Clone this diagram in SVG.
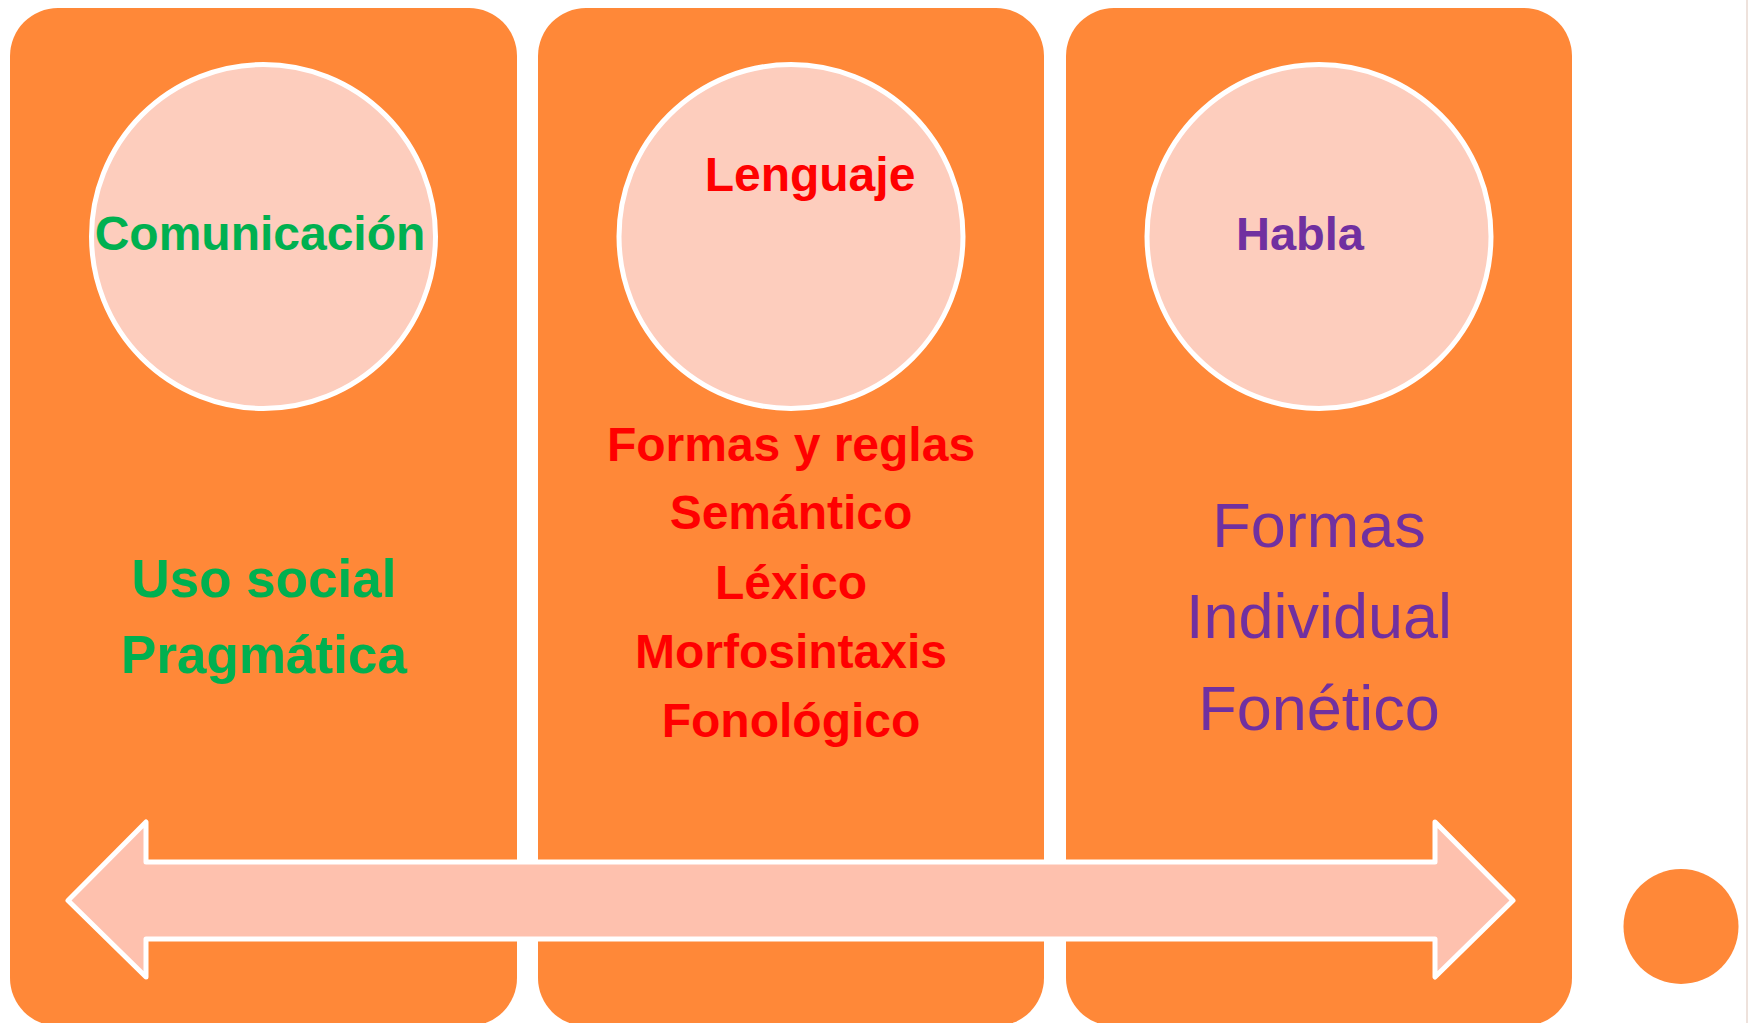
<svg xmlns="http://www.w3.org/2000/svg" width="1748" height="1023" viewBox="0 0 1748 1023">
<style>
.box{fill:#FF8838}
.circ{fill:#FDCDBD;stroke:#FFFFFF;stroke-width:5}
.b{font-family:"Liberation Sans",Arial,sans-serif;font-weight:bold;text-anchor:middle}
.r{font-family:"Liberation Sans",Arial,sans-serif;font-weight:normal;text-anchor:middle}
.g{fill:#00B050}
.red{fill:#FF0000}
.p{fill:#7030A0}
</style>
<rect width="1748" height="1023" fill="#FFFFFF"/>
<line x1="1747" y1="0" x2="1747" y2="1023" stroke="#E8D8D0" stroke-width="1.5"/>
<g id="col-comunicacion">
<rect class="box" x="10" y="8" width="507" height="1018" rx="48" ry="48"/>
<circle class="circ" cx="263.5" cy="236.5" r="172"/>
<text class="b g" x="260" y="250" font-size="48">Comunicación</text>
<text class="b g" x="264" y="597" font-size="53">Uso social</text>
<text class="b g" x="264" y="673" font-size="53">Pragmática</text>
</g>
<g id="col-lenguaje">
<rect class="box" x="538" y="8" width="506" height="1018" rx="48" ry="48"/>
<circle class="circ" cx="791" cy="236.5" r="172"/>
<text class="b red" x="810" y="191" font-size="48">Lenguaje</text>
<text class="b red" x="791" y="461" font-size="48">Formas y reglas</text>
<text class="b red" x="791" y="529" font-size="48">Semántico</text>
<text class="b red" x="791" y="599" font-size="48">Léxico</text>
<text class="b red" x="791" y="668" font-size="48">Morfosintaxis</text>
<text class="b red" x="791" y="737" font-size="48">Fonológico</text>
</g>
<g id="col-habla">
<rect class="box" x="1066" y="8" width="506" height="1018" rx="48" ry="48"/>
<circle class="circ" cx="1319" cy="236.5" r="172"/>
<text class="b p" x="1300" y="250" font-size="47">Habla</text>
<text class="r p" x="1319" y="547" font-size="63">Formas</text>
<text class="r p" x="1319" y="638" font-size="63">Individual</text>
<text class="r p" x="1319" y="730" font-size="63">Fonético</text>
</g>
<g id="connectors">
<path d="M68,900.5 L146,822 L146,862 L1435,862 L1435,822 L1513,900.5 L1435,977 L1435,939 L146,939 L146,977 Z" fill="#FEC1AE" stroke="#FFFFFF" stroke-width="5" stroke-linejoin="round"/>
</g>
<g id="dot">
<circle cx="1681" cy="926.5" r="57.5" fill="#FF8838"/>
</g>
</svg>
